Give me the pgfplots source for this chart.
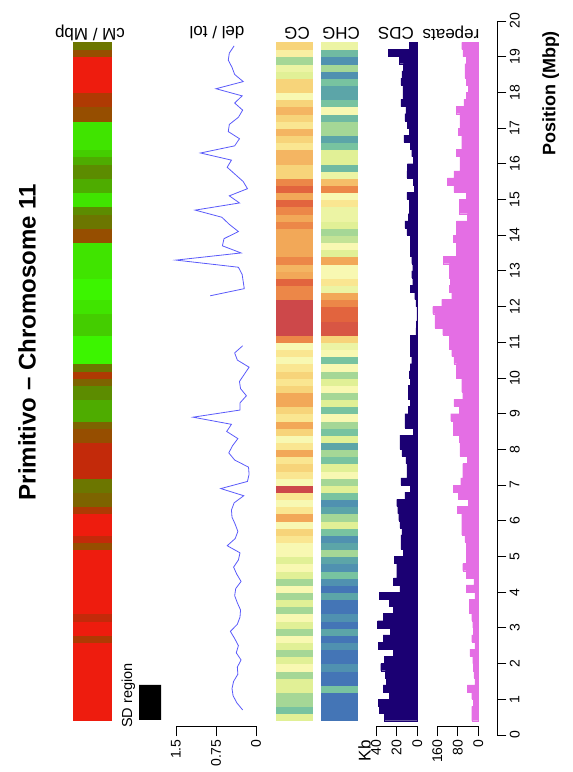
\documentclass[border=0pt]{standalone}
\usepackage{pgfplots}
\pgfplotsset{compat=1.18}
\usepackage{pgfplotstable}
\usepackage{fontspec}
\setmainfont{Liberation Sans}

\definecolor{cdscol}{RGB}{27,0,115}
\definecolor{repcol}{RGB}{228,110,228}
\definecolor{delcol}{RGB}{90,90,250}
\newcommand{\ticksize}{\fontsize{14}{14}\selectfont}
\newcommand{\headsize}{\fontsize{17}{17}\selectfont}

\pgfplotsset{
  colormap={cmmap}{rgb255=(238,28,14) rgb255=(195,42,10) rgb255=(175,58,3) rgb255=(150,78,0) rgb255=(125,100,0) rgb255=(108,118,0) rgb255=(92,140,0) rgb255=(78,172,0) rgb255=(68,205,0) rgb255=(64,228,0) rgb255=(60,245,0)},
  colormap={specmap}{rgb255=(68,117,182) rgb255=(80,145,176) rgb255=(92,165,168) rgb255=(120,195,160) rgb255=(165,215,150) rgb255=(225,240,150) rgb255=(248,248,178) rgb255=(250,230,145) rgb255=(247,212,122) rgb255=(242,168,88) rgb255=(236,135,72) rgb255=(226,100,62) rgb255=(205,72,74)},
  track/.style={scale only axis, ymin=0.25, ymax=20, height=705.1pt, anchor=south west, clip=false},
  heat/.style={only marks, scatter, mark=square*, mark size=1pt, point meta=explicit,
    scatter/use mapped color={draw=mapped color, fill=mapped color},
    mark options={xscale=#1, yscale=3.57, line width=0.3pt}},
  baxis/.style={axis x line*=bottom, axis y line=none, tick align=outside, major tick length=10pt,
    axis line style={line width=0.9pt, black}, every tick/.style={line width=0.9pt, black},
    xticklabel style={rotate=90, anchor=east, font=\ticksize}},
}

\pgfplotstableread{
k pos cm cg chg cds rep del
0 0.5 0 5 0 32 26 nan
1 0.7 0 3 0 37 26 0.25
2 0.9 0 4 0 38 20 0.36
3 1.1 0 4 0 27 26 0.43
4 1.3 0 5 3 33 43 0.45
5 1.5 0 5 0 30 13 0.42
6 1.7 0 4 0 31 17 0.34
7 1.9 0 6 1 35.5 20 0.35
8 2.1 0 5 0 32 22 0.28
9 2.3 0 4 0 23 33 0.37
10 2.5 0 5 1 38 13 0.33
11 2.7 2 6 0 33 26 0.40
12 2.9 0 4 2 26 20 0.48
13 3.1 0 5 0 38.5 22 0.35
14 3.3 1 6 1 33 26 0.30
15 3.5 0 4 0 23 35 0.29
16 3.7 0 5 0 27 35 0.35
17 3.9 0 4 2 37 13 0.40
18 4.1 0 6 0 17 48 0.38
19 4.3 0 4 1 23 17 0.28
20 4.5 0 5 3 20 48 0.36
21 4.7 0 6 1 20 61 0.42
22 4.9 0 5 2 22.5 48 0.33
23 5.1 0 6 4 13.5 46 0.30
24 5.3 3 6 2 16 48 0.54
25 5.5 1 7 1 16 52 0.39
26 5.7 0 8 3 15 65 0.34
27 5.9 0 6 5 17 65 0.39
28 6.1 0 9 4 18 65 0.45
29 6.3 2 7 2 19 82 0.46
30 6.5 4 6 1 20 39 0.41
31 6.7 4 7 3 12 78 0.23
32 6.9 5 12 5 7 98 0.66
33 7.1 5 6 4 16 69 0.16
34 7.3 1 7 6 10 61 0.13
35 7.5 1 8 5 10 61 0.14
36 7.7 1 7 3 11 43 0.40
37 7.9 1 9 4 15 72 0.51
38 8.1 1 7 2 17 72 0.44
39 8.3 3 6 5 17 74 0.34
40 8.5 3 8 3 4 98 0.55
41 8.7 4 9 4 12 98 0.46
42 8.9 7 7 6 12 108 1.18
43 9.1 7 8 3 9 74 0.30
44 9.3 7 9 5 7 95 0.30
45 9.5 6 9 4 9 61 0.18
46 9.7 6 8 6 9 65 0.29
47 9.9 4 7 5 7 65 0.31
48 10.1 2 8 4 8 85 0.22
49 10.3 5 7 6 7 85 0.13
50 10.5 10 6 3 5.5 95 0.35
51 10.7 10 7 6 7 104 0.40
52 10.9 10 6 5.5 6.5 113 0.25
53 11.1 10 10 8 7 113 nan
54 11.3 8 12 11.5 1.5 139 nan
55 11.5 8 12 11.5 1 169 nan
56 11.7 8 12 11 0.3 169 nan
57 11.9 9 12 11 0.3 178 nan
58 12.1 9 12 10 1.5 143 nan
59 12.3 10 10 9 2.5 104 0.86
60 12.5 10 10 5.5 7 113 0.22
61 12.7 10 11 7 4.5 110 0.24
62 12.9 9 9 6 5.5 113 0.26
63 13.1 9 8.7 6 4.5 113 0.33
64 13.3 9 10 9 5.5 137 1.50
65 13.5 9 9 5 7 85 0.28
66 13.7 9 9 6 6.5 85 0.63
67 13.9 3 9 4.5 7 98 0.60
68 14.1 3 9 4 10 87 0.33
69 14.3 5 10 5 12 85 0.50
70 14.5 5 9 5.5 9 43 0.64
71 14.7 6 10 5.5 8 74 1.14
72 14.9 9 11 7 8 74 0.31
73 15.1 9 9 6 10 46 0.50
74 15.3 7 11 10 3 95 0.16
75 15.5 7 10 8.5 4 121 0.24
76 15.7 6 8 5.5 10 95 0.39
77 15.9 6 8 2.7 9.7 72 0.54
78 16.1 7 8.7 5 4 72 0.46
79 16.3 8 8.7 5 5.5 85 1.04
80 16.5 9 7 3 7 65 0.40
81 16.7 9 8 2 13 65 0.31
82 16.9 9 8.7 4 8 78 0.52
83 17.1 9 7 4 9.7 72 0.50
84 17.3 3 8 2.7 12 72 0.33
85 17.5 3 8.7 6 11 87 0.25
86 17.7 2 8 3 16 56 0.40
87 17.9 2 6 2 14 48 0.26
88 18.1 0 8 2 14 39 0.75
89 18.3 0 8 3 16 48 0.24
90 18.5 0 5 1 15 52 0.40
91 18.7 0 5.5 4 13.5 52 0.45
92 18.9 0 4 1 17.4 48 0.52
93 19.1 3 6.5 2.7 28 60 0.50
94 19.3 5 8 5.5 7.7 65 0.41
}\data

\begin{document}
\begin{tikzpicture}
\path[use as bounding box] (0pt,0pt) rectangle (573pt,772pt);

% cM / Mbp heatmap
\begin{axis}[track, at={(73pt,46pt)}, width=38pt, xmin=-1, xmax=1, hide axis,
  colormap name=cmmap, point meta min=0, point meta max=10]
\addplot[heat=19] table[x expr=0, y=pos, meta=cm] {\data};
\end{axis}

% SD region
\begin{axis}[track, at={(139pt,46pt)}, width=22pt, xmin=0, xmax=1, hide axis]
\addplot[fill=black, draw=none] coordinates {(0,0.42) (1,0.42) (1,1.40) (0,1.40) (0,0.42)};
\node[rotate=90, anchor=west, inner sep=0pt, font=\fontsize{14.5}{14.5}\selectfont] at (axis cs:-0.48,0.19) {SD region};
\end{axis}

% del / tol
\begin{axis}[track, baxis, at={(176pt,46pt)}, width=80pt, xmin=0, xmax=1.5, x dir=reverse,
  xtick={0,0.75,1.5}, xticklabels={0,0.75,1.5}]
\addplot[delcol, line width=0.8pt, mark=none, unbounded coords=jump] table[x=del, y=pos] {\data};
\end{axis}

% CG heatmap
\begin{axis}[track, at={(276.5pt,46pt)}, width=36pt, xmin=-1, xmax=1, hide axis,
  colormap name=specmap, point meta min=0, point meta max=12]
\addplot[heat=18] table[x expr=0, y=pos, meta=cg] {\data};
\end{axis}

% CHG heatmap
\begin{axis}[track, at={(321pt,46pt)}, width=36pt, xmin=-1, xmax=1, hide axis,
  colormap name=specmap, point meta min=0, point meta max=12]
\addplot[heat=18] table[x expr=0, y=pos, meta=chg] {\data};
\end{axis}

% CDS
\begin{axis}[track, baxis, at={(376pt,46pt)}, width=41.3pt, xmin=0, xmax=40, x dir=reverse,
  xtick={0,20,40}, xticklabels={0,20,40}]
\addplot[xbar, bar width=0.2, bar shift=0pt, fill=cdscol, draw=cdscol, line width=0.2pt] table[x=cds, y=pos] {\data};
\node[rotate=90, anchor=east, inner sep=0pt, font=\headsize] at (axis cs:51,-0.15) {Kb};
\end{axis}

% repeats
\begin{axis}[track, baxis, at={(437.3pt,46pt)}, width=41pt, xmin=0, xmax=160, x dir=reverse,
  xtick={0,80,160}, xticklabels={0,80,160}]
\addplot[xbar, bar width=0.2, bar shift=0pt, fill=repcol, draw=repcol, line width=0.2pt] table[x=rep, y=pos] {\data};
\end{axis}

% position axis
\begin{axis}[scale only axis, at={(497.3pt,37pt)}, anchor=south east, width=10pt, height=714pt,
  xmin=0, xmax=1, ymin=0, ymax=20, axis y line*=right, axis x line=none,
  ytick={0,1,...,20}, yticklabels={0,1,2,3,4,5,6,7,8,9,10,11,12,13,14,15,16,17,18,19,20},
  tick align=outside, major tick length=9pt,
  axis line style={line width=0.9pt, black}, every tick/.style={line width=0.9pt, black},
  yticklabel style={rotate=90, anchor=north, font=\ticksize}]
\addplot[draw=none] coordinates {(0,0)};
\end{axis}

% texts
\node[rotate=90, font=\fontsize{24}{24}\selectfont\bfseries] at (27pt,430pt) {Primitivo – Chromosome 11};
\node[rotate=90, font=\fontsize{18}{18}\selectfont\bfseries] at (550.8pt,678.5pt) {Position (Mbp)};
\node[rotate=180, font=\headsize] at (90pt,739pt) {cM / Mbp};
\node[rotate=180, font=\headsize] at (217pt,739pt) {del / tol};
\node[rotate=180, font=\headsize] at (297pt,739pt) {CG};
\node[rotate=180, font=\headsize] at (341pt,739pt) {CHG};
\node[rotate=180, font=\headsize] at (396pt,739pt) {CDS};
\node[rotate=180, font=\headsize] at (451pt,739pt) {repeats};
\end{tikzpicture}
\end{document}
